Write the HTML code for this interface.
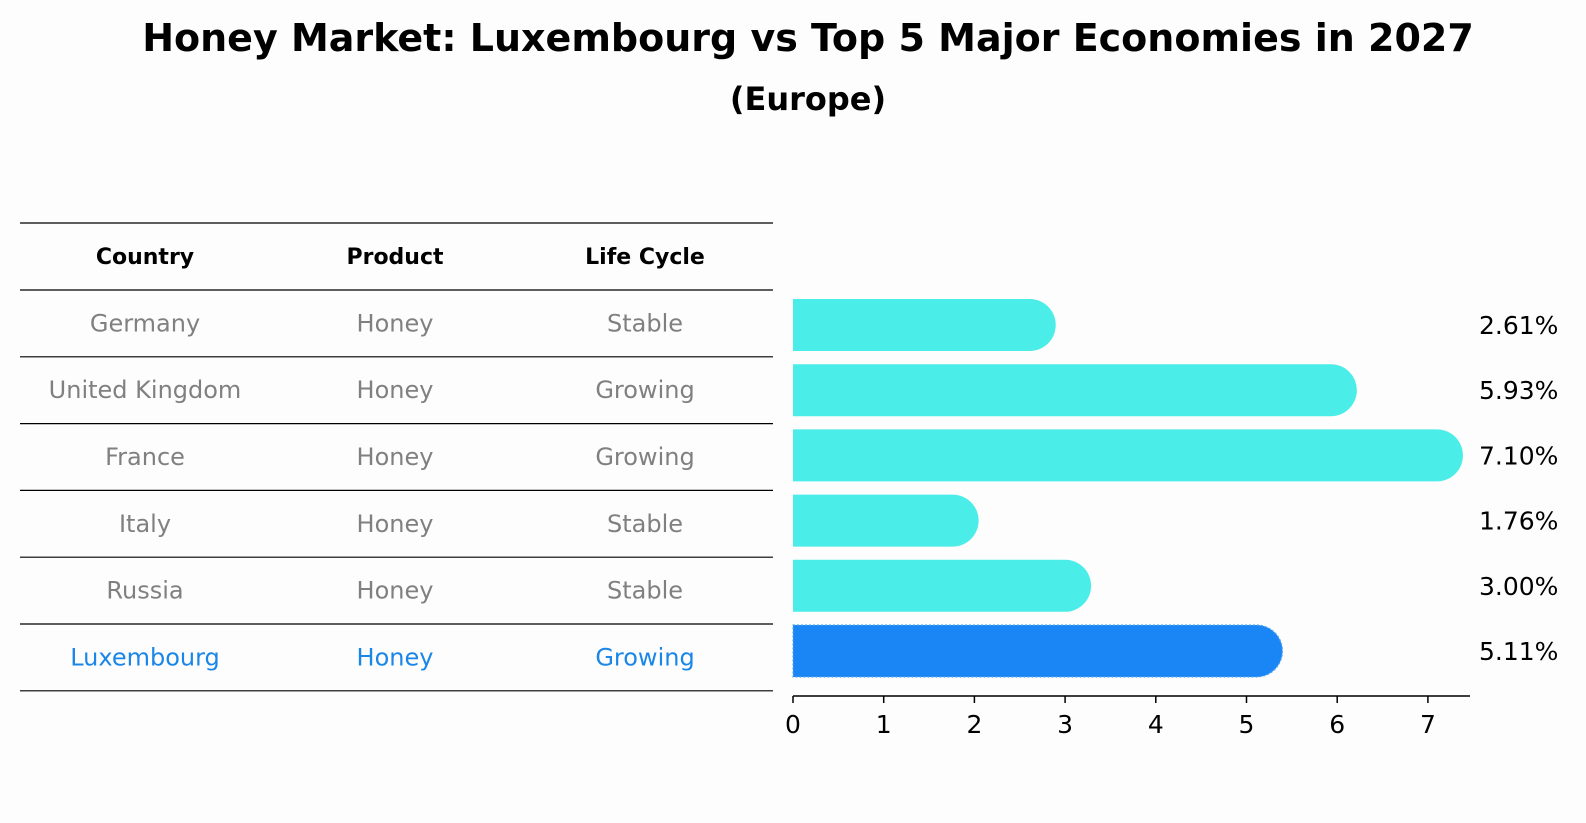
<!DOCTYPE html>
<html><head><meta charset="utf-8"><style>
html,body{margin:0;padding:0;background:#fdfdfd;}
svg{display:block;font-family:"DejaVu Sans","Liberation Sans",sans-serif;}
</style></head><body>
<svg id="chart" width="1586" height="823" viewBox="0 0 1586 823">
<rect width="1586" height="823" fill="#fdfdfd"/>
<text x="808" y="51" text-anchor="middle" font-size="38" font-weight="bold" fill="#000">Honey Market: Luxembourg vs Top 5 Major Economies in 2027</text>
<text x="808" y="110" text-anchor="middle" font-size="32" font-weight="bold" fill="#000">(Europe)</text>
<g id="table"></g>
<g id="bars"></g>
<g id="axis"></g>
</svg>
<script>
const countries = ["Germany","United Kingdom","France","Italy","Russia","Luxembourg"];
const products = ["Honey","Honey","Honey","Honey","Honey","Honey"];
const lifeCycles = ["Stable","Growing","Growing","Stable","Stable","Growing"];
const growth = [2.61,5.93,7.10,1.76,3.00,5.11];
const valueLabels = ["2.61%","5.93%","7.10%","1.76%","3.00%","5.11%"];
const ticks = [0,1,2,3,4,5,6,7];
const highlight = "Luxembourg";

const NS="http://www.w3.org/2000/svg";
function mk(tag,attrs,parent){const e=document.createElementNS(NS,tag);for(const k in attrs)e.setAttribute(k,attrs[k]);parent.appendChild(e);return e;}
const x0=793, unit=90.7;
function xs(v){return x0+v*unit;}
const rowY0=325, rowStep=65.2, barH=52;
function ys(i){return rowY0+i*rowStep;}

// table
const tbl=document.getElementById('table');
const colX=[145,395,645];
const headers=["Country","Product","Life Cycle"];
const rs=66.8;
const lineYs=[223,290];
for(let i=1;i<=countries.length;i++) lineYs.push(290+i*rs);
lineYs.forEach((y,i)=>{
  const l=mk('line',{x1:20,x2:773,y1:y,y2:y,stroke:'#000','stroke-width':1.2},tbl);
  
  
});
headers.forEach((h,j)=>{
  const t=mk('text',{x:colX[j],y:264,'text-anchor':'middle','font-size':22,'font-weight':'bold',fill:'#000'},tbl);
  t.textContent=h;
  
  
});
countries.forEach((c,i)=>{
  const cy=290+rs/2+i*rs+8;
  const col=c===highlight?'#1a86e8':'#808080';
  [c,products[i],lifeCycles[i]].forEach((v,j)=>{
    const t=mk('text',{x:colX[j],y:cy,'text-anchor':'middle','font-size':24,fill:col},tbl);
    t.textContent=v;
    
    
  });
});

// bars
const bg=document.getElementById('bars');
growth.forEach((v,i)=>{
  const cy=ys(i), r=barH/2;
  const hl=countries[i]===highlight;
  const x1=xs(0), x2=xs(v);
  const d=`M${x1},${cy-r} L${x2},${cy-r} A${r},${r} 0 0 1 ${x2},${cy+r} L${x1},${cy+r} Z`;
  const p=mk('path',{d:d,fill:hl?'#1a86f5':'#4bede8'},bg);
  if(hl){p.setAttribute('stroke','#5aa8f0');p.setAttribute('stroke-width','1.2');p.setAttribute('stroke-dasharray','2,2');}
  
  
  const t=mk('text',{x:1479,y:cy+9,'font-size':25,fill:'#000'},bg);
  t.textContent=valueLabels[i];
  
  
});

// axis
const ax=document.getElementById('axis');
const axY=696;
const al=mk('line',{x1:xs(0),x2:1470,y1:axY,y2:axY,stroke:'#000','stroke-width':1.5},ax);


ticks.forEach(tv=>{
  const l=mk('line',{x1:xs(tv),x2:xs(tv),y1:axY,y2:axY+7,stroke:'#000','stroke-width':1.5},ax);
  
  
  const t=mk('text',{x:xs(tv),y:axY+37,'text-anchor':'middle','font-size':25,fill:'#000'},ax);
  t.textContent=String(tv);
  
  
});
</script>
</body></html>
